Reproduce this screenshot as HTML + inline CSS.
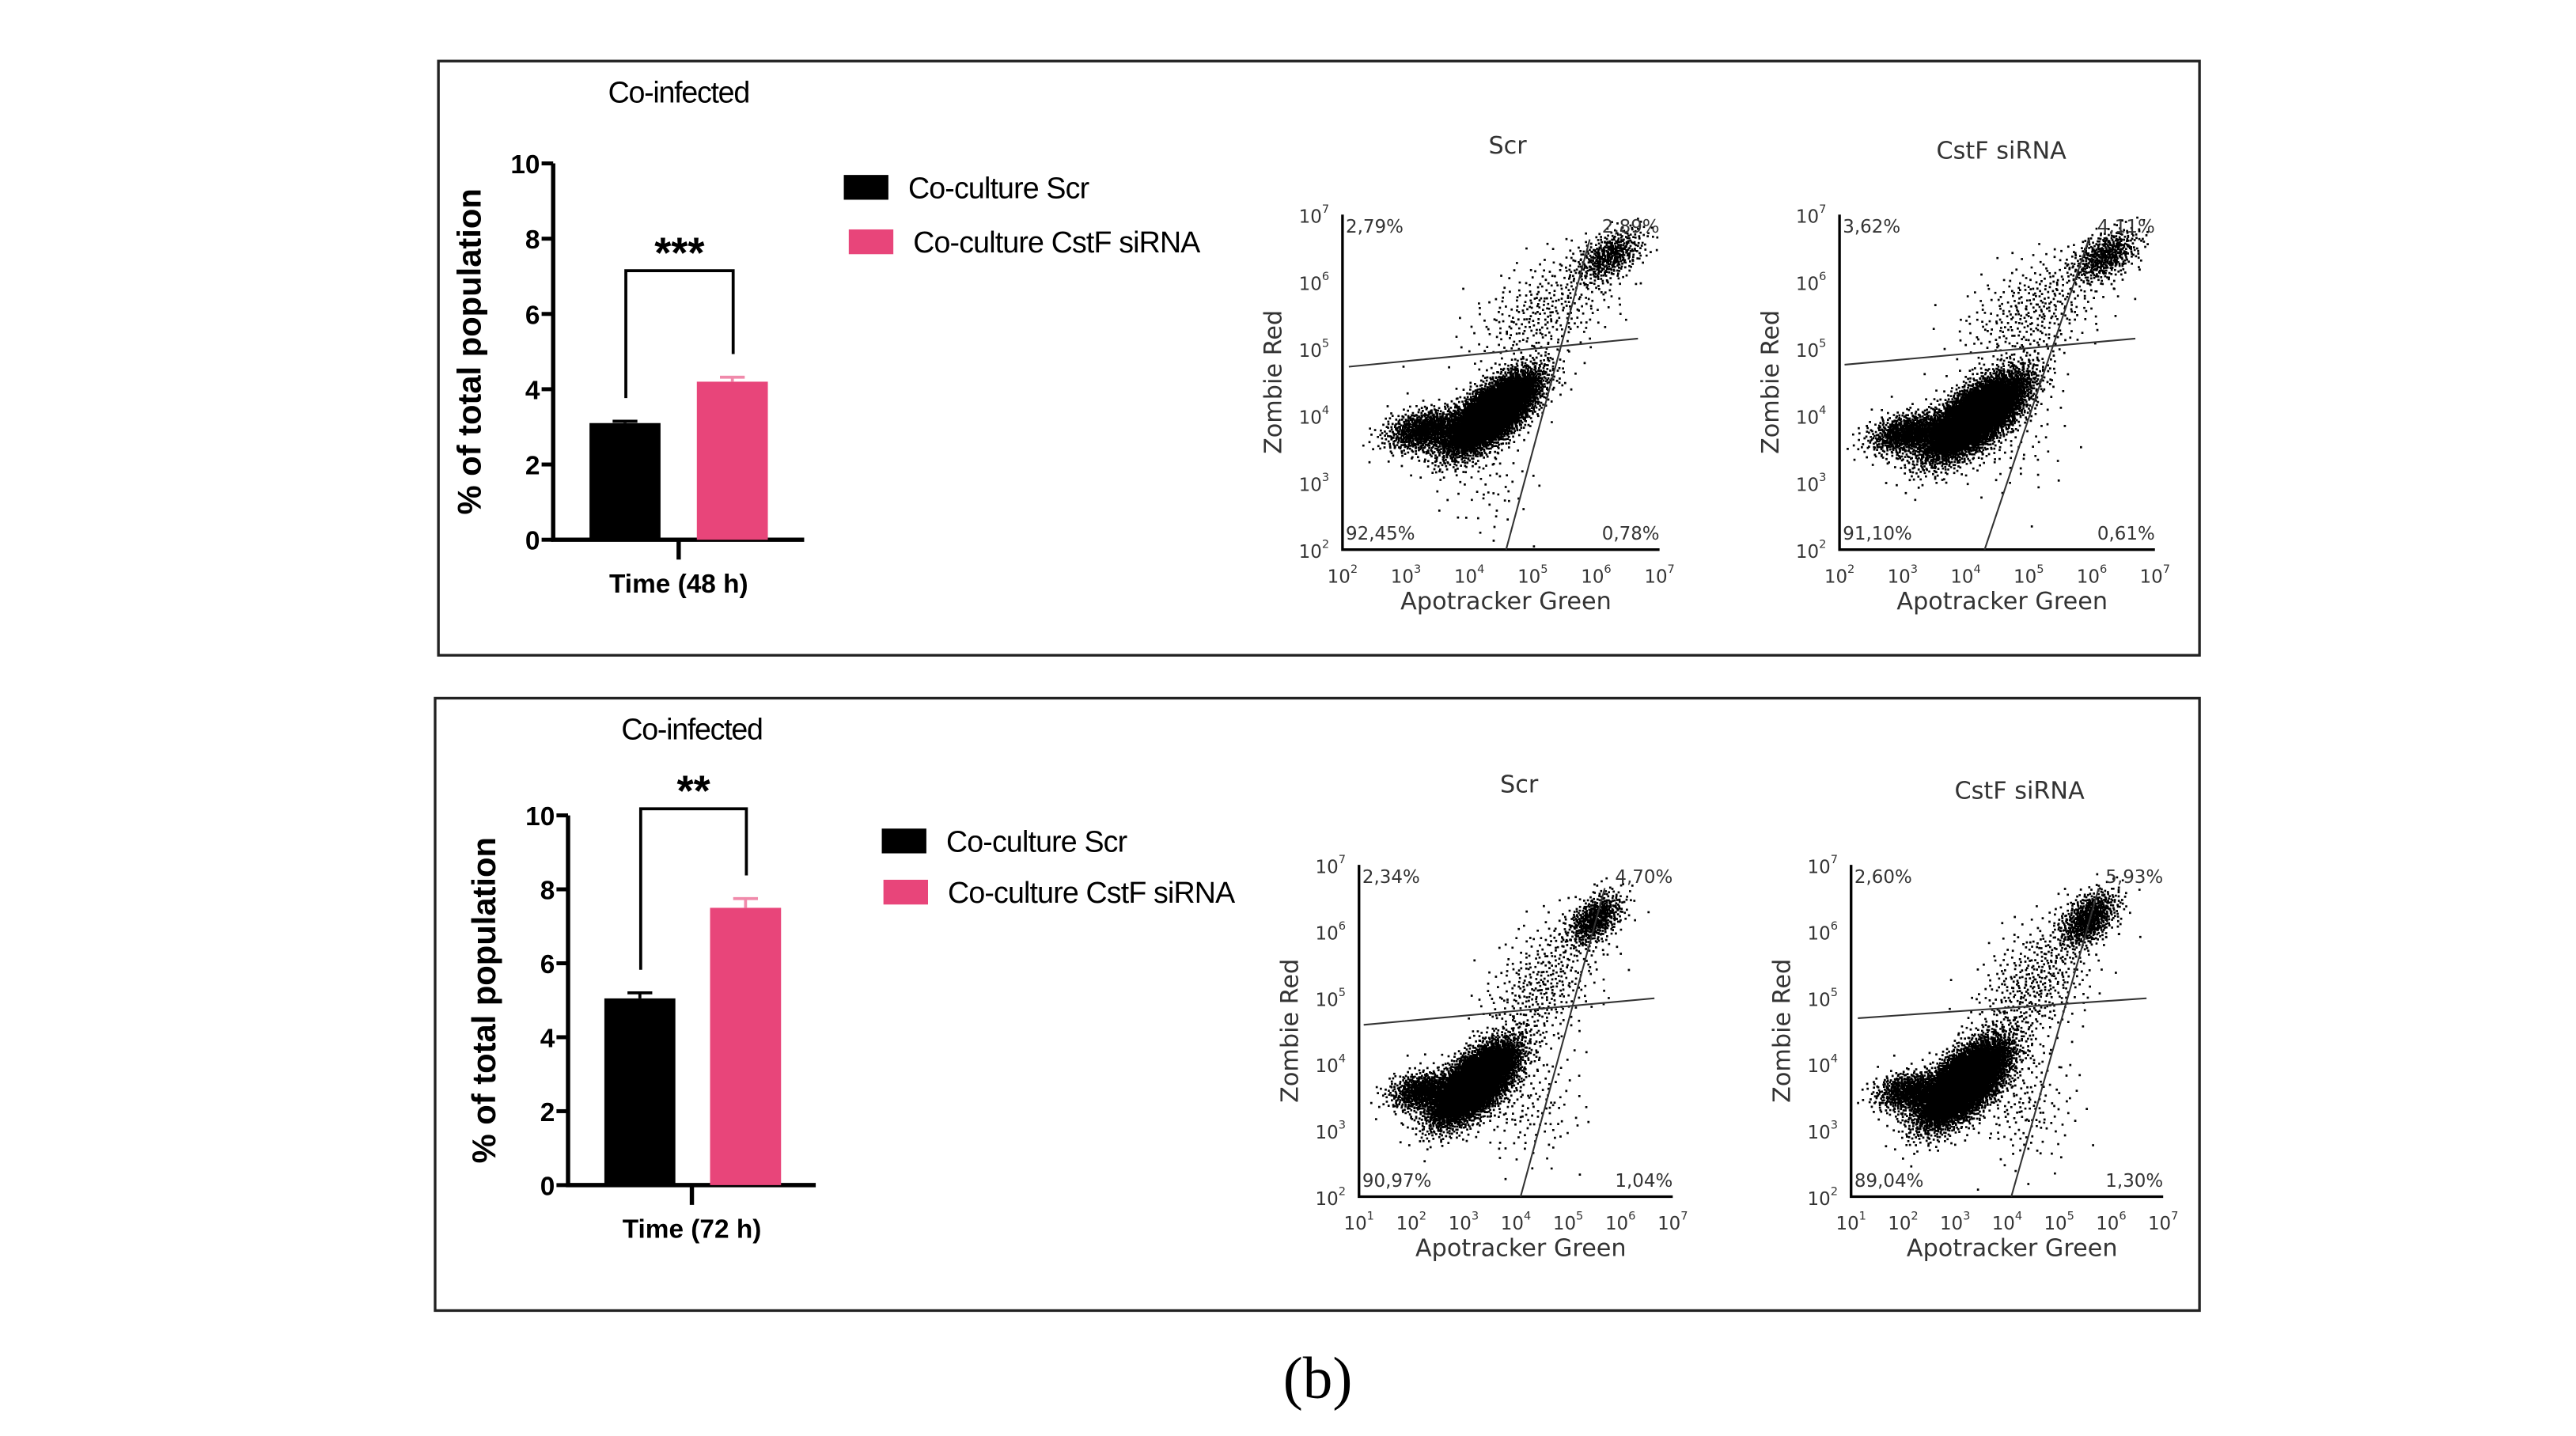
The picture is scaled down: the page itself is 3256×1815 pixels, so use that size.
<!DOCTYPE html>
<html><head><meta charset="utf-8"><style>
html,body{margin:0;padding:0;background:#fff;}
svg{display:block;}
.sa{font-family:"Liberation Sans",Arial,sans-serif;}
.dv{font-family:"DejaVu Sans",Verdana,sans-serif;fill:#333;}
</style></head><body>
<svg id="fig" width="3256" height="1815" viewBox="0 0 1560 870" preserveAspectRatio="none" xmlns="http://www.w3.org/2000/svg">
<rect x="265.5" y="37" width="1066.5" height="360" fill="none" stroke="#222" stroke-width="1.6"/>
<rect x="263.5" y="423" width="1068.5" height="371" fill="none" stroke="#222" stroke-width="1.6"/>
<text x="798" y="847" text-anchor="middle" font-family="Liberation Serif,serif" font-size="36">(b)</text>
<g id="layer"></g>
</svg>
<script>
// ---------- data ----------
const barCategories = ["Co-culture Scr", "Co-culture CstF siRNA"];
const bars48 = [3.1, 4.2];
const err48 = [0.05, 0.12];
const bars72 = [5.05, 7.5];
const err72 = [0.15, 0.25];
const yTicks = [0, 2, 4, 6, 8, 10];
const sig48 = "***";
const sig72 = "**";
// flow quadrant percentages [UL, UR, LL, LR]
const quadScr48 = ["2,79%", "2,89%", "92,45%", "0,78%"];
const quadCstF48 = ["3,62%", "4,11%", "91,10%", "0,61%"];
const quadScr72 = ["2,34%", "4,70%", "90,97%", "1,04%"];
const quadCstF72 = ["2,60%", "5,93%", "89,04%", "1,30%"];
// gates in log10 units: [x1,y1,x2,y2]
const gateH_Scr48 = [2.1, 4.73, 6.66, 5.15];
const gateV_Scr48 = [4.58, 2, 5.9, 6.63];
const gateH_CstF48 = [2.08, 4.76, 6.69, 5.15];
const gateV_CstF48 = [4.3, 2, 5.95, 6.63];
const gateH_Scr72 = [1.09, 4.59, 6.65, 4.99];
const gateV_Scr72 = [4.09, 2, 5.7, 6.65];
const gateH_CstF72 = [1.13, 4.69, 6.68, 4.99];
const gateV_CstF72 = [4.08, 2, 5.76, 6.65];
// populations: [cx, cy, sx, sy, rho, n] in log10 units
const popScr48 = [[4.35,4.05,0.36,0.3,0.7,5500],[3.3,3.8,0.32,0.16,0.3,900],[6.2,6.4,0.27,0.2,0.5,450],[5.2,5.6,0.6,0.45,0.5,350],[4.3,3.0,0.35,0.4,0,60]];
const popCstF48 = [[4.15,4.0,0.4,0.32,0.7,6000],[3.1,3.75,0.32,0.16,0.3,900],[6.2,6.4,0.27,0.2,0.5,500],[5.1,5.6,0.6,0.45,0.5,380],[4.6,3.6,0.5,0.4,0,80]];
const popScr72 = [[3.2,3.72,0.4,0.3,0.65,5500],[2.2,3.6,0.32,0.15,0.2,700],[5.5,6.2,0.27,0.2,0.5,550],[4.5,5.2,0.6,0.55,0.5,420],[4.2,3.4,0.5,0.45,0,150]];
const popCstF72 = [[3.15,3.72,0.42,0.32,0.65,6000],[2.1,3.6,0.32,0.15,0.2,700],[5.55,6.2,0.29,0.22,0.5,650],[4.5,5.2,0.6,0.55,0.5,480],[4.3,3.4,0.5,0.45,0,170]];

const NS = "http://www.w3.org/2000/svg";
const layer = document.getElementById("layer");
function mk(tag, attrs, parent, txt) {
  const e = document.createElementNS(NS, tag);
  for (const k in attrs) e.setAttribute(k, attrs[k]);
  if (txt !== undefined) e.textContent = txt;
  (parent || layer).appendChild(e);
  return e;
}

function barChart(o) {
  const g = mk("g", {});
  
  
  const y = v => o.yb - (o.yb - o.yt) * v / 10;
  const t1 = mk("text", {x: o.titleX, y: o.titleY, "text-anchor": "middle", "font-size": 18, class: "sa", "letter-spacing": "-0.6"}, g, "Co-infected");
  
  
  const ax = mk("path", {d: `M${o.x0},${o.yt} V${o.yb} H${o.xe} M${o.xc},${o.yb} V${o.yb + 12}`, stroke: "#000", "stroke-width": 2.6, fill: "none"}, g);
  
  
  yTicks.forEach(t => {
    const tk = mk("line", {x1: o.x0 - 7, x2: o.x0, y1: y(t), y2: y(t), stroke: "#000", "stroke-width": 2.4}, g);
    
    
    const tl = mk("text", {x: o.x0 - 8, y: y(t) + 6, "text-anchor": "end", "font-size": 16, "font-weight": "bold", class: "sa"}, g, String(t));
    
    
  });
  const yt = mk("text", {transform: `translate(${o.x0 - 44},${(o.yt + o.yb) / 2}) rotate(-90)`, "text-anchor": "middle", "font-size": 20, "font-weight": "bold", class: "sa"}, g, "% of total population");
  
  
  const xt = mk("text", {x: o.xc, y: o.yb + 32, "text-anchor": "middle", "font-size": 16, "font-weight": "bold", class: "sa"}, g, o.xlabel);
  
  
  const cols = ["#000", "#e8457a"];
  const tops = [];
  o.vals.forEach((v, i) => {
    const bx = o.bx[i];
    const b = mk("rect", {x: bx, y: y(v), width: 43, height: o.yb - y(v), fill: cols[i]}, g);
    
    
    const e = mk("path", {d: `M${bx + 21.5},${y(v)} V${y(v + o.err[i])} M${bx + 14},${y(v + o.err[i])} H${bx + 29}`, stroke: i ? "#f08aab" : "#000", "stroke-width": 1.8, fill: "none"}, g);
    
    
    tops.push(y(v + o.err[i]));
  });
  const lx = o.bx[0] + 22, rx = o.bx[1] + 22;
  const br = mk("path", {d: `M${lx},${tops[0] - 14} V${o.brY} H${rx} V${tops[1] - 14}`, stroke: "#000", "stroke-width": 1.8, fill: "none"}, g);
  
  
  const st = mk("text", {x: (lx + rx) / 2, y: o.brY - 2, "text-anchor": "middle", "font-size": 26, "font-weight": "bold", class: "sa"}, g, o.sig);
  
  
  barCategories.forEach((c, i) => {
    const r = mk("rect", {x: o.lgx[i], y: o.lgy[i], width: 27, height: 15, fill: cols[i]}, g);
    
    
    const lt = mk("text", {x: o.lgx[i] + 39, y: o.lgy[i] + 14, "font-size": 18, class: "sa", "letter-spacing": "-0.4"}, g, c);
    
    
  });
}

barChart({name: "bar-chart-48h", x0: 335, yb: 327, yt: 99, xe: 487, xc: 411, bx: [357, 422], vals: bars48, err: err48, brY: 164, sig: sig48, xlabel: "Time (48 h)", titleX: 411, titleY: 62, lgx: [511, 514], lgy: [106, 139]});
barChart({name: "bar-chart-72h", x0: 344, yb: 718, yt: 494, xe: 494, xc: 419, bx: [366, 430], vals: bars72, err: err72, brY: 490, sig: sig72, xlabel: "Time (72 h)", titleX: 419, titleY: 448, lgx: [534, 535], lgy: [502, 533]});

// deterministic low-discrepancy sequence
function halton(i, b) { let f = 1, r = 0; while (i > 0) { f /= b; r += f * (i % b); i = Math.floor(i / b); } return r; }

function flowPlot(o) {
  const g = mk("g", {});
  
  
  const X = v => o.x0 + (o.x1 - o.x0) * (v - o.xmin) / (7 - o.xmin);
  const Y = v => o.y0 - (o.y0 - o.y1) * (v - 2) / 5;
  let idx = 1;
  let d = "";
  o.pops.forEach(p => {
    const [cx, cy, sx, sy, rho, n] = p;
    for (let k = 0; k < n; k++, idx++) {
      const u1 = Math.max(halton(idx, 2), 1e-6), u2 = halton(idx, 3);
      const r = Math.sqrt(-2 * Math.log(u1));
      const z1 = r * Math.cos(2 * Math.PI * u2), z2 = r * Math.sin(2 * Math.PI * u2);
      const lx = cx + sx * z1, ly = cy + sy * (rho * z1 + Math.sqrt(1 - rho * rho) * z2);
      if (lx < o.xmin || lx > 7 || ly < 2 || ly > 7) continue;
      d += `M${X(lx).toFixed(1)},${Y(ly).toFixed(1)}h1.3v1.3h-1.3z`;
    }
  });
  const dots = mk("path", {d: d, fill: "#000"}, g);
  
  
  const ax = mk("path", {d: `M${X(o.xmin)},${Y(7)} V${Y(2)} H${X(7)}`, stroke: "#000", "stroke-width": 1.6, fill: "none"}, g);
  
  
  [o.gh, o.gv].forEach((gt, i) => {
    const l = mk("line", {x1: X(gt[0]), y1: Y(gt[1]), x2: X(gt[2]), y2: Y(gt[3]), stroke: "#333", "stroke-width": 1}, g);
    
    
  });
  for (let e = o.xmin; e <= 7; e++) {
    const t = mk("text", {x: X(e), y: o.y0 + 20, "text-anchor": "middle", "font-size": 11, class: "dv"}, g);
    
    
    mk("tspan", {}, t, "10");
    mk("tspan", {dy: -6, "font-size": 7}, t, String(e));
  }
  for (let e = 2; e <= 7; e++) {
    const t = mk("text", {x: o.x0 - 8, y: Y(e) + 5, "text-anchor": "end", "font-size": 11, class: "dv"}, g);
    
    
    mk("tspan", {}, t, "10");
    mk("tspan", {dy: -6, "font-size": 7}, t, String(e));
  }
  const ti = mk("text", {x: o.tx, y: o.ty, "text-anchor": "middle", "font-size": 14.5, class: "dv"}, g, o.title);
  
  
  const yl = mk("text", {transform: `translate(${o.x0 - 37},${(o.y0 + o.y1) / 2}) rotate(-90)`, "text-anchor": "middle", "font-size": 14.5, class: "dv"}, g, "Zombie Red");
  
  
  const xl = mk("text", {x: (o.x0 + o.x1) / 2 + 3, y: o.y0 + 36, "text-anchor": "middle", "font-size": 14.5, class: "dv"}, g, "Apotracker Green");
  
  
  const pos = [[o.x0 + 2, o.y1 + 11, "start"], [o.x1, o.y1 + 11, "end"], [o.x0 + 2, o.y0 - 6, "start"], [o.x1, o.y0 - 6, "end"]];
  o.quads.forEach((q, i) => {
    const t = mk("text", {x: pos[i][0], y: pos[i][1], "text-anchor": pos[i][2], "font-size": 11, class: "dv"}, g, q);
    
    
  });
}

flowPlot({name: "flow-scr-48h", x0: 813, x1: 1005, y0: 333, y1: 130, xmin: 2, pops: popScr48, gh: gateH_Scr48, gv: gateV_Scr48, quads: quadScr48, title: "Scr", tx: 913, ty: 93});
flowPlot({name: "flow-cstf-48h", x0: 1114, x1: 1305, y0: 333, y1: 130, xmin: 2, pops: popCstF48, gh: gateH_CstF48, gv: gateV_CstF48, quads: quadCstF48, title: "CstF siRNA", tx: 1212, ty: 96});
flowPlot({name: "flow-scr-72h", x0: 823, x1: 1013, y0: 725, y1: 524, xmin: 1, pops: popScr72, gh: gateH_Scr72, gv: gateV_Scr72, quads: quadScr72, title: "Scr", tx: 920, ty: 480});
flowPlot({name: "flow-cstf-72h", x0: 1121, x1: 1310, y0: 725, y1: 524, xmin: 1, pops: popCstF72, gh: gateH_CstF72, gv: gateV_CstF72, quads: quadCstF72, title: "CstF siRNA", tx: 1223, ty: 484});
</script>
</body></html>
